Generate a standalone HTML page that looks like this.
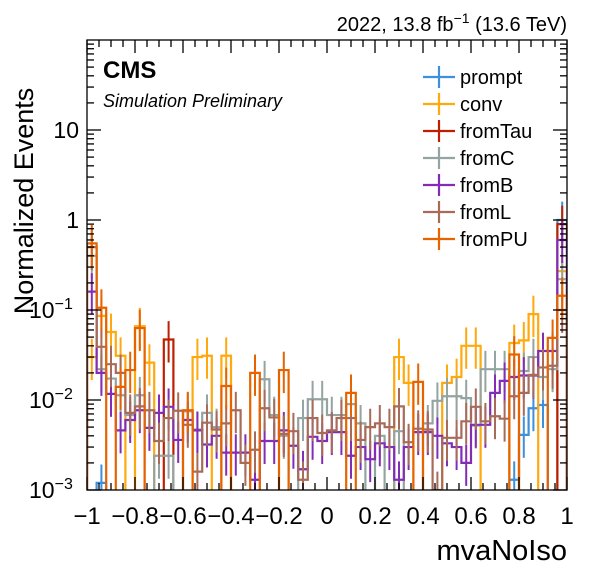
<!DOCTYPE html>
<html><head><meta charset="utf-8"><style>
body{margin:0;background:#fff}
svg text{font-family:"Liberation Sans",sans-serif;fill:#000}
</style></head><body>
<svg id="c" width="596" height="572" xmlns="http://www.w3.org/2000/svg">
<rect x="0" y="0" width="596" height="572" fill="#fff"/>
<g id="marks"></g>
<g id="axes"></g>
<text x="567" y="31" font-size="20" text-anchor="end">2022, 13.8 fb<tspan dy="-8" font-size="14">−1</tspan><tspan dy="8"> (13.6 TeV)</tspan></text>
<text x="103" y="78" font-size="24" font-weight="bold">CMS</text>
<text x="103" y="107" font-size="18" font-style="italic">Simulation Preliminary</text>
<text transform="translate(33,201) rotate(-90)" font-size="27" text-anchor="middle">Normalized Events</text>
<text x="567" y="560" font-size="29" text-anchor="end">mvaNoIso</text>
<g id="legend"></g>
</svg>
<script>
const categories = Array.from({length:50},(_,i)=>(-0.98+0.04*i).toFixed(2));
const seriesNames = ["prompt","conv","fromTau","fromC","fromB","fromL","fromPU"];
const seriesColors = ["#3f90da","#ffa90e","#bd1f01","#94a4a2","#832db6","#a96b59","#e76300"];
const prompt = [0,0.0012,0,0,0,0,0,0,0,0,0,0,0,0,0,0,0,0,0,0,0,0,0,0,0,0,0,0,0,0,0,0,0,0,0,0,0,0,0,0,0,0,0,0,0.0013,0.0041,0.0081,0.0088,0,1.0];
const conv = [0.03,0.086,0.057,0.031,0,0.066,0.026,0,0,0,0,0.030,0.031,0,0.031,0,0,0,0,0,0,0,0,0,0,0,0,0,0,0,0,0,0.030,0.0155,0,0,0,0.0155,0.018,0.040,0.040,0,0,0,0.043,0.046,0.09,0,0,0.27];
const fromTau = [0,0,0,0,0,0,0,0,0.047,0,0,0,0,0,0,0,0,0,0,0,0,0,0,0,0,0,0,0,0,0,0,0,0,0,0,0,0,0,0,0,0,0,0,0,0,0,0,0,0,0.9];
const fromC = [0.4,0.022,0.0173,0.0113,0.0068,0.0113,0,0.0024,0.0024,0,0.0075,0.0047,0.0072,0.005,0,0,0,0,0.017,0.0068,0.004,0,0.0063,0.0102,0.0102,0.0068,0.0068,0.009,0.0055,0,0.004,0,0.0045,0,0,0.0055,0.0098,0.011,0.011,0.0105,0.0052,0.022,0.022,0.022,0,0.021,0.030,0.018,0.022,0.22];
const fromB = [0.16,0.020,0.0117,0.0046,0.006,0.0077,0.0049,0.0072,0.0084,0.0036,0.006,0.0046,0.0032,0.004,0.0026,0.0026,0.0026,0.0013,0.0035,0.0035,0.0046,0.0031,0.0017,0.0039,0.0035,0.0044,0.0044,0.0024,0.003,0.0022,0.0033,0.003,0.0013,0.003,0.0044,0.0044,0.004,0.0033,0.003,0.002,0.0053,0.0053,0.012,0.0163,0.018,0.0187,0.0187,0.035,0.035,0.6];
const fromL = [0.5,0.039,0.025,0.020,0.0072,0.0085,0.0077,0.0035,0.0063,0.0076,0.0053,0.0016,0.0056,0.0047,0.0055,0.0077,0.002,0.0028,0.0081,0.0064,0.0042,0.0045,0.0013,0.0063,0.0043,0.0046,0.0063,0.0063,0.0036,0.005,0.0055,0.005,0.0085,0.0034,0.0048,0.0047,0.001,0.0038,0.0038,0.0058,0.0084,0.0058,0.0066,0.0062,0.011,0.012,0.019,0.023,0.024,0.1];
const fromPU = [0.55,0.106,0,0.014,0.0215,0.063,0,0,0,0,0.0077,0,0,0,0.0143,0,0,0.020,0,0,0.0215,0,0,0,0,0,0,0.012,0,0,0,0,0,0,0.0159,0,0,0,0,0,0,0,0,0,0.032,0,0,0,0.049,0.144];
const seriesValues = [prompt,conv,fromTau,fromC,fromB,fromL,fromPU];
const xTicks = [-1,-0.8,-0.6,-0.4,-0.2,0,0.2,0.4,0.6,0.8,1];
const xTickLabels = ["−1","−0.8","−0.6","−0.4","−0.2","0","0.2","0.4","0.6","0.8","1"];
const yDecades = [-3,-2,-1,0,1];
const yTickLabels = ["10","10","10","1","10"];
const yTickExps = ["−3","−2","−1","",""];

const X0=87,X1=567,Y0=490,Y1=40,LMIN=-3,LMAX=2.0;
const xs=v=>X0+(v+1)/2*(X1-X0);
const ys=v=>{if(!(v>0))return Y0+2;const l=Math.log10(v);return Math.min(Y0+2,Y0-(l-LMIN)/(LMAX-LMIN)*(Y0-Y1));};
const NS="http://www.w3.org/2000/svg";
function mk(t,a,p){const e=document.createElementNS(NS,t);for(const k in a)e.setAttribute(k,a[k]);p.appendChild(e);return e;}
const marks=document.getElementById('marks');
const clip=mk('clipPath',{id:'pc'},marks);mk('rect',{x:X0,y:Y1,width:X1-X0,height:Y0-Y1},clip);
const g=mk('g',{'clip-path':'url(#pc)'},marks);
seriesValues.forEach((vals,s)=>{
  const col=seriesColors[s];
  let d='';
  vals.forEach((v,i)=>{
    const a=xs(-1+0.04*i),b=xs(-1+0.04*(i+1)),y=ys(v);
    d+=(i===0?'M'+a+','+(Y0+2):'')+'L'+a+','+y+'L'+b+','+y;
  });
  d+='L'+X1+','+(Y0+2);
  const p=mk('path',{d:d,fill:'none',stroke:col,'stroke-width':2.2},g);
  
  
  vals.forEach((v,i)=>{
    if(!(v>0))return;
    const cx=xs(Number(categories[i]));
    const e=mk('line',{x1:cx,x2:cx,y1:ys(v*1.6),y2:ys(v/1.8),stroke:col,'stroke-width':2},g);
    
    
  });
});
const ax=document.getElementById('axes');
mk('rect',{x:X0,y:Y1,width:X1-X0,height:Y0-Y1,fill:'none',stroke:'#000','stroke-width':1.3},ax);
for(let k=0;k<=40;k++){const v=-1+k*0.05;const x=xs(v);const L=(k%4===0)?13:7;
  mk('line',{x1:x,x2:x,y1:Y0,y2:Y0-L,stroke:'#000','stroke-width':1.3},ax);
  mk('line',{x1:x,x2:x,y1:Y1,y2:Y1+L,stroke:'#000','stroke-width':1.3},ax);}
xTicks.forEach((v,i)=>{const t=mk('text',{x:xs(v),y:524,'font-size':24,'text-anchor':'middle'},ax);t.textContent=xTickLabels[i];
  
  });
for(let d=-3;d<2;d++)for(let m=1;m<10;m++){const y=ys(m*Math.pow(10,d));if(y<Y1)continue;const L=m===1?14:7;
  mk('line',{x1:X0,x2:X0+L,y1:y,y2:y,stroke:'#000','stroke-width':1.3},ax);
  mk('line',{x1:X1,x2:X1-L,y1:y,y2:y,stroke:'#000','stroke-width':1.3},ax);}
yDecades.forEach((d,i)=>{const y=ys(Math.pow(10,d));const t=mk('text',{x:79,y:y+8,'font-size':23,'text-anchor':'end'},ax);
  if(yTickExps[i]){t.setAttribute('x',29);t.setAttribute('text-anchor','start');t.innerHTML=yTickLabels[i]+'<tspan dy="-9" font-size="16">'+yTickExps[i]+'</tspan>';}else t.textContent=yTickLabels[i];
  
  });
const lg=document.getElementById('legend');
seriesNames.forEach((n,i)=>{const y=77+27*i;const c=seriesColors[i];
  const e=mk('g',{},lg);
  
  
  mk('line',{x1:423,x2:455,y1:y,y2:y,stroke:c,'stroke-width':2.2},e);
  mk('line',{x1:439,x2:439,y1:y-11,y2:y+11,stroke:c,'stroke-width':2.2},e);
  const t=mk('text',{x:460,y:y+7,'font-size':20},e);t.textContent=n;});
</script>
</body></html>
